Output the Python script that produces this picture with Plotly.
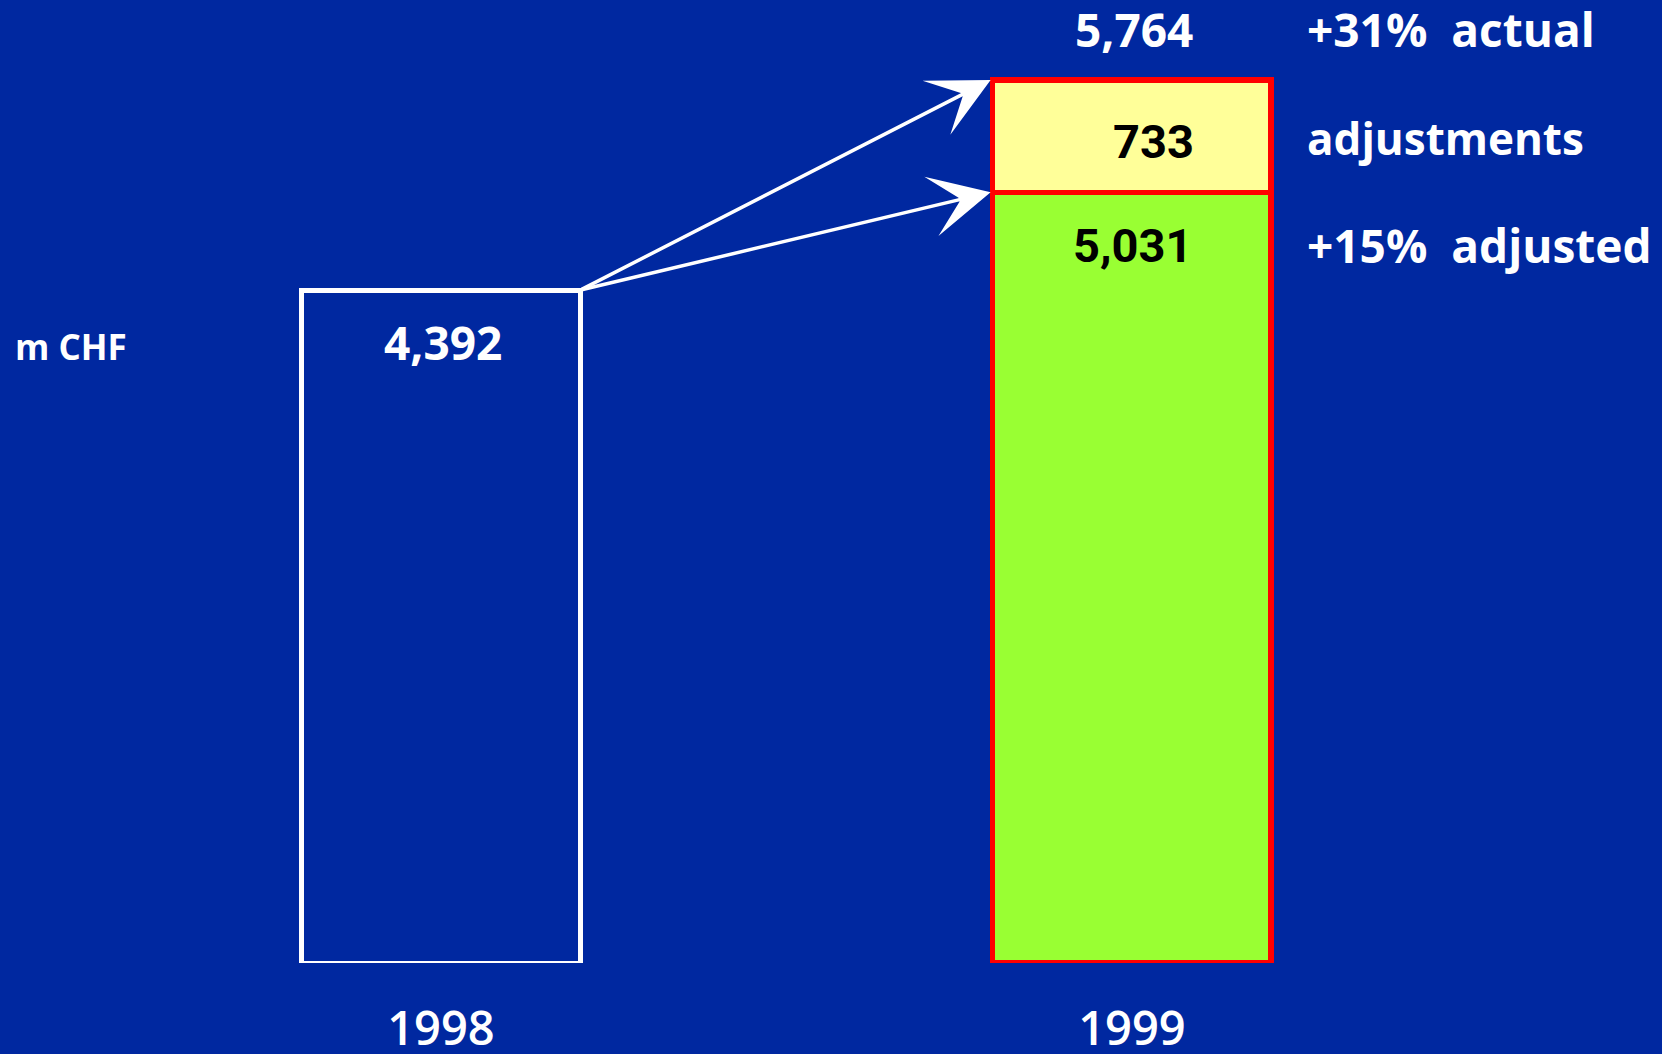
import plotly.graph_objects as go

# ---- data ----
years = ["1998", "1999"]
value_1998 = [4392]
adjusted_1999 = [5031]
adjustments_1999 = [733]
actual_1999 = 5764
growth_actual = "+31%  actual"
growth_adjusted = "+15%  adjusted"
label_adjustments = "adjustments"
unit_label = "m CHF"

BG = "#0028A0"
W = 0.403
FONT = "Open Sans"

def fmt(v):
    return f"{v:,}"

fig = go.Figure()
fig.add_trace(go.Bar(
    x=[years[0]], y=value_1998, width=W,
    marker=dict(color="rgba(0,0,0,0)", line=dict(color="white", width=5)),
    hoverinfo="skip",
))
fig.add_trace(go.Bar(
    x=[years[1]], y=adjusted_1999, width=W,
    marker=dict(color="#99FF33", line=dict(color="#FF0000", width=5.5)),
    hoverinfo="skip",
))
fig.add_trace(go.Bar(
    x=[years[1]], y=adjustments_1999, width=W,
    marker=dict(color="#FFFF99", line=dict(color="#FF0000", width=5.5)),
    hoverinfo="skip",
))

white_font = dict(family=FONT, size=46, color="white", weight=700)
word_font = dict(family=FONT, size=44, color="white", weight=700)
black_font = dict(family="Roboto", size=47, color="black", weight=700)

ann = []
# value labels
ann.append(dict(x=0, y=value_1998[0], text=fmt(value_1998[0]), showarrow=False,
                font=white_font, yanchor="middle", yshift=-52, xshift=2))
ann.append(dict(x=1, y=actual_1999, text=fmt(actual_1999), showarrow=False,
                font=white_font, yanchor="middle", yshift=51, xshift=2))
ann.append(dict(x=1, y=adjusted_1999[0] + adjustments_1999[0], text=fmt(adjustments_1999[0]),
                showarrow=False, font=black_font, yanchor="middle", yshift=-62, xshift=22))
ann.append(dict(x=1, y=adjusted_1999[0], text=fmt(adjusted_1999[0]), showarrow=False,
                font=black_font, yanchor="middle", yshift=-53, xshift=1))
# right side labels
xr = 1.2547
ann.append(dict(x=xr, y=actual_1999, text=growth_actual, showarrow=False, font=white_font,
                xanchor="left", yanchor="middle", yshift=51, xshift=-3))
ann.append(dict(x=xr, y=adjusted_1999[0] + adjustments_1999[0], text=label_adjustments,
                showarrow=False, font=word_font, xanchor="left", yanchor="middle", yshift=-58,
                xshift=-3))
ann.append(dict(x=xr, y=adjusted_1999[0], text=growth_adjusted, showarrow=False,
                font=white_font, xanchor="left", yanchor="middle", yshift=-53, xshift=-3))
# unit label
ann.append(dict(xref="paper", yref="paper", x=0.008, y=0.64, text=unit_label, showarrow=False,
                font=dict(family=FONT, size=35, color="white", weight=700),
                xanchor="left", yanchor="middle"))
# arrows
for ytip in [actual_1999, adjusted_1999[0]]:
    ann.append(dict(x=1 - W / 2 - 0.003, y=ytip, ax=W / 2, ay=value_1998[0],
                    axref="x", ayref="y", text="", showarrow=True,
                    arrowhead=3, arrowsize=2.9, arrowwidth=3.5, arrowcolor="white",
                    standoff=0))

fig.update_layout(
    width=1662, height=1054,
    margin=dict(l=0, r=0, t=0, b=91),
    paper_bgcolor=BG, plot_bgcolor=BG,
    barmode="stack", showlegend=False,
    annotations=ann,
    xaxis=dict(type="category", range=[-0.638, 1.767], showgrid=False, zeroline=False,
               showline=False, ticks="", ticklabelstandoff=34,
               tickfont=dict(family=FONT, size=47, color="white", weight=600),
               automargin=False),
    yaxis=dict(range=[0, 6286], visible=False, showgrid=False, zeroline=False),
)

fig.write_html(
    "out.html",
    config={"displayModeBar": False},
    post_script="document.body.style.margin='0';document.body.style.overflow='hidden';"
                "document.body.style.background='" + BG + "';",
)
